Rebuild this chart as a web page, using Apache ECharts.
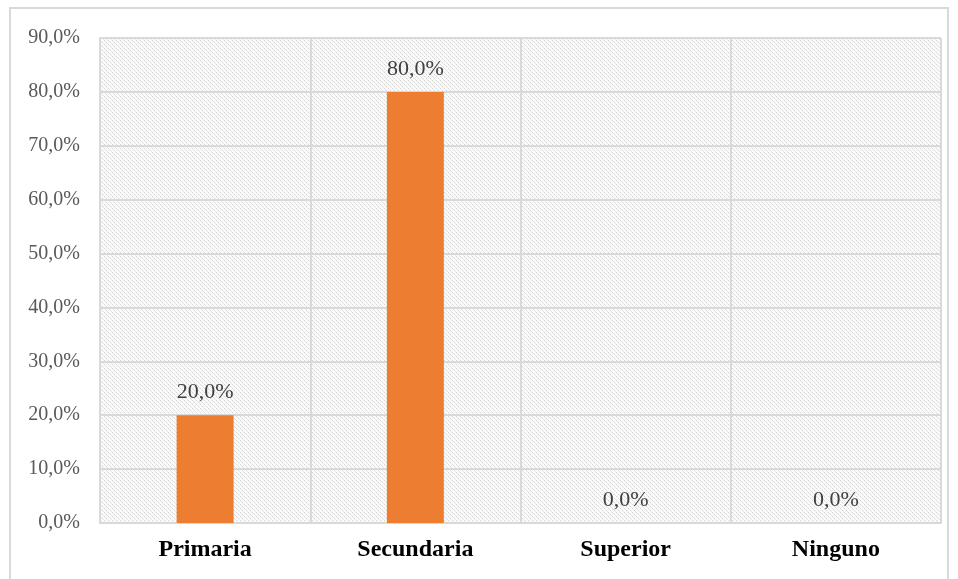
<!DOCTYPE html>
<html>
<head>
<meta charset="utf-8">
<script src="https://cdn.jsdelivr.net/npm/echarts@6/dist/echarts.min.js"></script>
<style>
  html, body { margin: 0; padding: 0; background: #fff; }
  #frame { position: absolute; left: 9px; top: 7px; width: 940px; height: 580px; border: 2px solid #d9d9d9; box-sizing: border-box; }
  #main { position: absolute; left: 0; top: 0; width: 958px; height: 579px; }
</style>
</head>
<body>
<div id="frame"></div>
<div id="main"></div>
<script>
var categories = ['Primaria', 'Secundaria', 'Superior', 'Ninguno'];
var values = [20.0, 80.0, 0.0, 0.0];
var yTicks = [0, 10, 20, 30, 40, 50, 60, 70, 80, 90];

function pct(v) {
    return v.toFixed(1).replace('.', ',') + '%';
}

// dotted diagonal hatch like the spreadsheet fill
var pat = document.createElement('canvas');
pat.width = 8; pat.height = 8;
var ctx = pat.getContext('2d');
ctx.fillStyle = '#fafafa';
ctx.fillRect(0, 0, 8, 8);
for (var i = 0; i < 8; i++) {
    ctx.fillStyle = (i % 2 === 0) ? '#d6d6d6' : '#e8e8e8';
    ctx.fillRect(i, i, 1, 1);
    ctx.fillRect((i + 4) % 8, i, 1, 1);
}

var chartDom = document.getElementById('main');
var myChart = echarts.init(chartDom);
var option;

option = {
    animation: false,
    grid: {
        left: 100, right: 17, top: 38, bottom: 56,
        show: true,
        backgroundColor: { image: pat, repeat: 'repeat' },
        borderWidth: 0
    },
    xAxis: {
        type: 'category',
        data: categories,
        axisLine: { show: true, lineStyle: { color: '#d9d9d9', width: 2 } },
        axisTick: { show: false },
        splitLine: { show: true, interval: 0, lineStyle: { color: '#d9d9d9', width: 2 } },
        axisLabel: {
            interval: 0, margin: 15,
            fontFamily: 'Liberation Serif', fontSize: 24, fontWeight: 'bold', color: '#000'
        }
    },
    yAxis: {
        type: 'value',
        min: yTicks[0],
        max: yTicks[yTicks.length - 1],
        interval: 10,
        axisLine: { show: true, lineStyle: { color: '#d9d9d9', width: 2 } },
        axisTick: { show: false },
        splitLine: { show: true, lineStyle: { color: '#d9d9d9', width: 2 } },
        axisLabel: {
            margin: 20,
            fontFamily: 'Liberation Serif', fontSize: 20, color: '#595959',
            formatter: function (v) { return pct(v); }
        }
    },
    series: [{
        type: 'bar',
        data: values,
        barWidth: 57,
        itemStyle: { color: '#ed7d31' },
        label: {
            show: true, position: 'top', distance: 12,
            fontFamily: 'Liberation Serif', fontSize: 22, color: '#404040',
            formatter: function (p) { return pct(p.value); }
        }
    }]
};
option && myChart.setOption(option);
</script>
</body>
</html>
